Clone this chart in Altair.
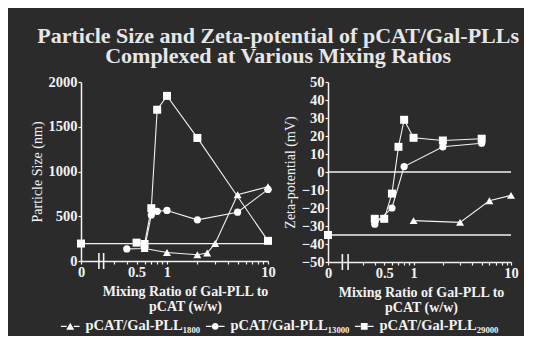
import math
import altair as alt
import pandas as pd

# ---------------- data ----------------
series_names = ["pCAT/Gal-PLL₁₈₀₀", "pCAT/Gal-PLL₁₃₀₀₀", "pCAT/Gal-PLL₂₉₀₀₀"]
series_shapes = ["triangle-up", "circle", "square"]

# Left panel: particle size (nm) vs mixing ratio (w/w)
size_ratio_1800 = [0.6, 1, 2, 2.5, 3, 5, 10]
size_1800 = [140, 95, 70, 90, 195, 740, 830]
size_ratio_13000 = [0.4, 0.6, 0.7, 0.8, 1, 2, 5, 10]
size_13000 = [135, 140, 515, 555, 565, 460, 545, 800]
size_ratio_29000 = [0.5, 0.6, 0.7, 0.8, 1, 2, 10]
size_29000 = [205, 190, 590, 1690, 1845, 1375, 225]
size_control = 195          # pCAT alone (ratio 0)

# Right panel: zeta-potential (mV) vs mixing ratio (w/w)
zeta_ratio_1800 = [1, 3, 6, 10]
zeta_1800 = [-27, -28, -16, -13]
zeta_ratio_13000 = [0.4, 0.6, 0.8, 2, 5]
zeta_13000 = [-29, -20, 3, 14, 16]
zeta_ratio_29000 = [0.4, 0.5, 0.6, 0.7, 0.8, 1, 2, 5]
zeta_29000 = [-26, -26, -12, 14, 29, 19, 17.5, 18.5]
zeta_control = -35          # pCAT alone (ratio 0)
zeta_zero_line = 0

ratio_max = 10
x_ticks = [0, 0.3, 0.4, 0.5, 0.6, 0.7, 0.8, 0.9, 1, 2, 3, 4, 5, 6, 7, 8, 9, 10]
x_tick_labels = {0: "0", 0.5: "0.5", 1: "1", 10: "10"}
size_ticks = [0, 500, 1000, 1500, 2000]
zeta_ticks = [-50, -40, -30, -20, -10, 0, 10, 20, 30, 40, 50]

x_title = ["Mixing Ratio of Gal-PLL to", "pCAT (w/w)"]
title_lines = ["Particle Size and Zeta-potential of pCAT/Gal-PLLs",
               "Complexed at Various Mixing Ratios"]

FONT = "Liberation Serif"
WHITE = "#f2f2f2"


def long_df(ratios, values, control):
    rows = []
    for name, rs, vs in zip(series_names, ratios, values):
        for r, v in zip(rs, vs):
            rows.append({"series": name, "ratio": r, "value": v, "ctrl": 0})
    rows.append({"series": series_names[2], "ratio": 0, "value": control, "ctrl": 1})
    return pd.DataFrame(rows)


def make_panel(df, ref_values, zero_pos, break_ratios, y_title, y_domain, y_ticks,
               width, height, title_x, with_legend=False):
    pos_expr = f"datum.ratio == 0 ? {zero_pos} : log(datum.ratio) / LN10"
    tick_pos = [zero_pos if t == 0 else math.log10(t) for t in x_ticks]
    parts = []
    for t, lab in x_tick_labels.items():
        p = zero_pos if t == 0 else math.log10(t)
        parts.append(f"abs(datum.value - ({p:.5f})) < 0.001 ? '{lab}'")
    label_expr = " : ".join(parts) + " : ''"

    x_enc = alt.X("pos:Q",
                  scale=alt.Scale(domain=[zero_pos, 1.0], nice=False, zero=False),
                  axis=alt.Axis(values=tick_pos, labelExpr=label_expr, title=x_title,
                                titleX=title_x, titleFontWeight="bold", titleFontSize=14,
                                titleLineHeight=15, titlePadding=6, labelPadding=1,
                                labelOverlap=False, labelFlush=False, labelBound=False))
    y_enc = alt.Y("value:Q",
                  scale=alt.Scale(domain=y_domain, nice=False, zero=False),
                  axis=alt.Axis(values=y_ticks, title=y_title, format="d",
                                titleFontWeight="normal",
                                titleFontSize=14, titlePadding=4, labelPadding=1,
                                labelOverlap=False, labelFlush=False, labelBound=False))

    base = alt.Chart(df).transform_calculate(pos=pos_expr)

    ref_df = pd.DataFrame({"ratio": [0] * len(ref_values),
                           "ratio_end": [ratio_max] * len(ref_values),
                           "value": ref_values})
    ref = alt.Chart(ref_df).transform_calculate(
        pos=pos_expr, pos2="log(datum.ratio_end) / LN10"
    ).mark_rule(color=WHITE, strokeWidth=1.3).encode(x=x_enc, x2="pos2:Q", y=y_enc)

    lines = base.transform_filter("datum.ctrl == 0").mark_line(
        color=WHITE, strokeWidth=1.1
    ).encode(x=x_enc, y=y_enc, detail="series:N", order="ratio:Q")

    layers = [ref, lines]
    for name, shp in zip(series_names, series_shapes):
        layers.append(
            base.transform_filter(alt.datum.series == name).mark_point(
                shape=shp, filled=True, color="white", opacity=1,
                size=64 if shp != "circle" else 52
            ).encode(x=x_enc, y=y_enc)
        )

    brk = alt.Chart(pd.DataFrame({"ratio": break_ratios})).transform_calculate(
        pos=pos_expr
    ).mark_rule(color=WHITE, strokeWidth=1.6).encode(
        x=x_enc, y=alt.value(height - 8), y2=alt.value(height + 8)
    )
    layers.append(brk)

    if with_legend:
        # legend glyphs: short line segments on both sides of the marker
        seg = "M-2.2,-0.13H-0.85V0.13H-2.2ZM0.85,-0.13H2.2V0.13H0.85Z"
        legend_paths = [
            seg + "M-0.95,0.8L0,-0.85L0.95,0.8Z",
            seg + "M0.8,0A0.8,0.8,0,1,1,-0.8,0A0.8,0.8,0,1,1,0.8,0Z",
            seg + "M-0.8,-0.8H0.8V0.8H-0.8Z",
        ]
        leg = alt.Chart(pd.DataFrame({"label": series_names})).mark_point(
            filled=True, color="white", opacity=0
        ).encode(
            shape=alt.Shape("label:N", sort=series_names,
                            scale=alt.Scale(domain=series_names, range=legend_paths),
                            legend=alt.Legend(
                                title=None, orient="none", direction="horizontal",
                                legendX=-18, legendY=237,
                                labelFont=FONT, labelFontWeight="bold", labelFontSize=14.5,
                                labelColor=WHITE, symbolFillColor="white",
                                symbolOpacity=1, symbolSize=72, labelOffset=8,
                                columnPadding=1))
        )
        layers.append(leg)

    return alt.layer(*layers).properties(width=width, height=height)


left_df = long_df([size_ratio_1800, size_ratio_13000, size_ratio_29000],
                  [size_1800, size_13000, size_29000], size_control)
right_df = long_df([zeta_ratio_1800, zeta_ratio_13000, zeta_ratio_29000],
                   [zeta_1800, zeta_13000, zeta_29000], zeta_control)

left = make_panel(left_df, [size_control], -0.851, [0.212, 0.236],
                  "Particle Size (nm)", [0, 2000], size_ticks, 187, 179, 104,
                  with_legend=True)
right = make_panel(right_df, [zeta_control, zeta_zero_line], -0.878, [0.186, 0.213],
                   "Zeta-potential (mV)", [-50, 50], zeta_ticks, 183, 180, 93)

chart = alt.hconcat(left, right, spacing=7).properties(
    title=alt.TitleParams(title_lines, font=FONT, fontSize=22, fontWeight="bold",
                          color="#e6e6e6", anchor="middle", lineHeight=20, offset=6,
                          dx=4),
    background="#2b2b2b",
    padding={"left": 22, "top": 17, "right": 5, "bottom": 3},
).configure_view(stroke=None).configure_axis(
    domainColor=WHITE, domainWidth=1.5, tickColor=WHITE, tickSize=3, tickWidth=1.2,
    labelColor=WHITE, labelFont=FONT, labelFontWeight="bold", labelFontSize=14.5,
    titleColor=WHITE, titleFont=FONT, grid=False
)

chart.save("out.html", embed_options={"renderer": "svg", "actions": False})
